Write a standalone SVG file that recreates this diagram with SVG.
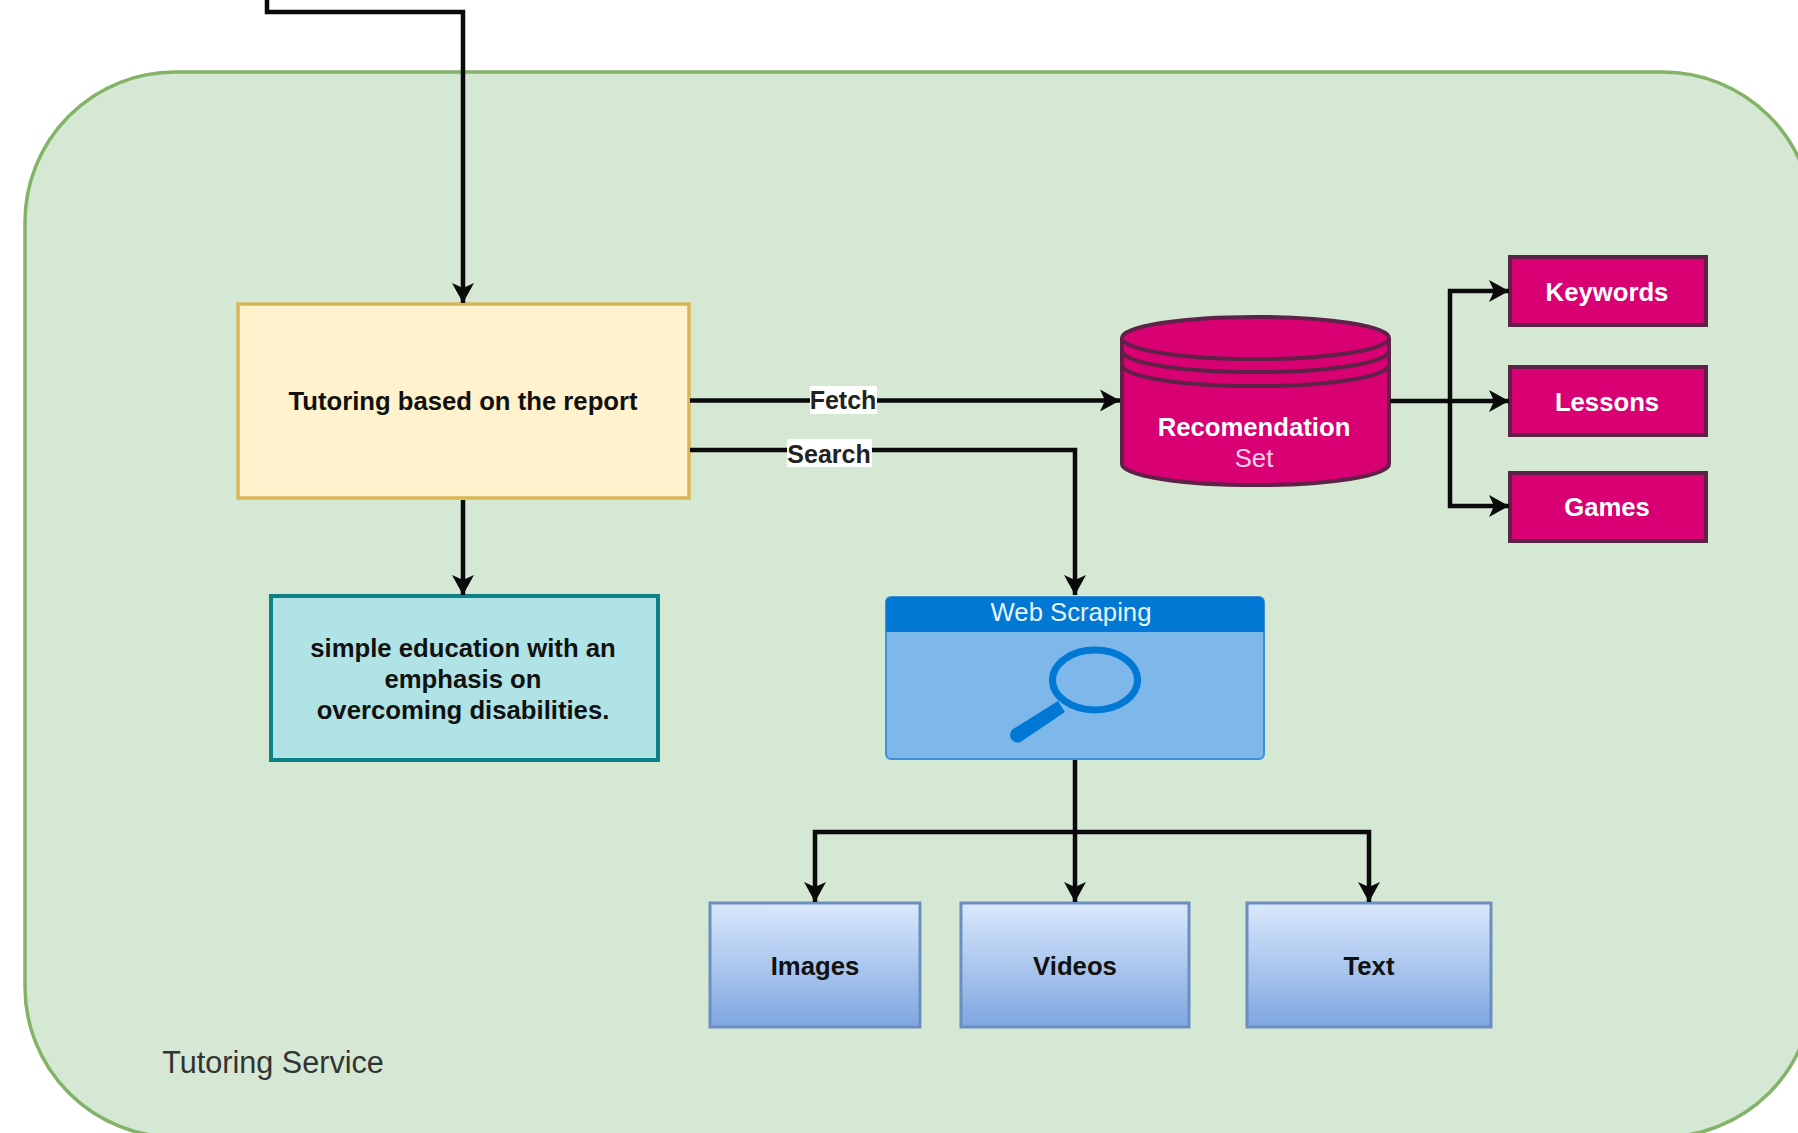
<svg xmlns="http://www.w3.org/2000/svg" width="1798" height="1133" viewBox="0 0 1798 1133">
<style>
text{font-family:"Liberation Sans",Arial,sans-serif;text-anchor:middle}
.b{font-weight:700;font-size:25.7px;fill:#111}
.w{font-weight:700;font-size:25.7px;fill:#fff}
.c{fill:none;stroke:#0a0a0a;stroke-width:4.5}
.m{fill:#d80073;stroke:#5e2148;stroke-width:4}
.g{fill:url(#blue);stroke:#6c8ebf;stroke-width:3}
</style>
<defs>
<linearGradient id="blue" x1="0" y1="0" x2="0" y2="1"><stop offset="0" stop-color="#dae8fc"/><stop offset="1" stop-color="#7ea6e0"/></linearGradient>
<marker id="a" markerUnits="userSpaceOnUse" markerWidth="22" markerHeight="24" refX="20" refY="12" orient="auto"><path d="M0 1L20 12L0 23L5 12Z" fill="#0a0a0a"/></marker>
</defs>
<rect width="1798" height="1133" fill="#fff"/>
<g id="container"><rect x="25" y="72" width="1788" height="1065" rx="150" ry="150" fill="#d5e8d4" stroke="#82b366" stroke-width="3.5"/><text x="273" y="1073" font-size="30.6" fill="#333">Tutoring Service</text></g>
<g id="tutoring"><rect x="238" y="304" width="451" height="194" fill="#fff2cc" stroke="#d6b656" stroke-width="3.5"/><text class="b" x="463" y="410">Tutoring based on the report</text></g>
<g id="education"><rect x="271" y="596" width="387" height="164" fill="#b0e3e6" stroke="#0e8088" stroke-width="4"/><text class="b"><tspan x="463" y="657">simple education with an</tspan><tspan x="463" y="688">emphasis on</tspan><tspan x="463" y="719">overcoming disabilities.</tspan></text></g>
<g id="recommendation"><path class="m" d="M1122 338A133 21 0 0 1 1389 338V464A133 21 0 0 1 1122 464Z"/><path d="M1122 338A133 21 0 0 0 1389 338M1122 351A133 21 0 0 0 1389 351M1122 365A133 21 0 0 0 1389 365" fill="none" stroke="#5e2148" stroke-width="4"/><text class="w" x="1254" y="436">Recomendation</text><text x="1254" y="467" font-size="25.7" fill="#ffd0e8">Set</text></g>
<g id="keywords"><rect class="m" x="1510" y="257" width="196" height="68"/><text class="w" x="1607" y="301">Keywords</text></g>
<g id="lessons"><rect class="m" x="1510" y="367" width="196" height="68"/><text class="w" x="1607" y="411">Lessons</text></g>
<g id="games"><rect class="m" x="1510" y="473" width="196" height="68"/><text class="w" x="1607" y="516">Games</text></g>
<g id="webscraping"><rect x="886" y="597" width="378" height="162" rx="5" fill="#7eb8ea" stroke="#3d8fd6" stroke-width="2"/><path d="M886 632V602a5 5 0 0 1 5-5H1259a5 5 0 0 1 5 5V632Z" fill="#0078d4"/><text x="1071" y="621" font-size="25.7" fill="#e8f4ff">Web Scraping</text><ellipse cx="1095" cy="680" rx="42.5" ry="30" fill="none" stroke="#0078d4" stroke-width="7"/><path d="M1058 701L1065 712L1022 741A7.5 7.5 0 0 1 1013 729Z" fill="#0078d4"/></g>
<g id="images"><rect class="g" x="710" y="903" width="210" height="124"/><text class="b" x="815" y="975">Images</text></g>
<g id="videos"><rect class="g" x="961" y="903" width="228" height="124"/><text class="b" x="1075" y="975">Videos</text></g>
<g id="text"><rect class="g" x="1247" y="903" width="244" height="124"/><text class="b" x="1369" y="975">Text</text></g>
<g id="connectors">
<path class="c" d="M267 0V12H463V303" marker-end="url(#a)"/>
<path class="c" d="M463 500V595" marker-end="url(#a)"/>
<path class="c" d="M690 400.5H1120" marker-end="url(#a)"/>
<path class="c" d="M690 450H1075V595" marker-end="url(#a)"/>
<path class="c" d="M1390 401H1509" marker-end="url(#a)"/>
<path class="c" d="M1450 401V291H1509" marker-end="url(#a)"/>
<path class="c" d="M1450 401V506H1509" marker-end="url(#a)"/>
<path class="c" d="M1075 760V902" marker-end="url(#a)"/>
<path class="c" d="M1075 832H815V902" marker-end="url(#a)"/>
<path class="c" d="M1075 832H1369V902" marker-end="url(#a)"/>
<rect x="810" y="386" width="67" height="28" fill="#fff"/><text x="843" y="409" font-size="25" font-weight="700" fill="#222">Fetch</text>
<rect x="787" y="439" width="85" height="28" fill="#fff"/><text x="829" y="463" font-size="25" font-weight="700" fill="#222">Search</text>
</g>
</svg>
